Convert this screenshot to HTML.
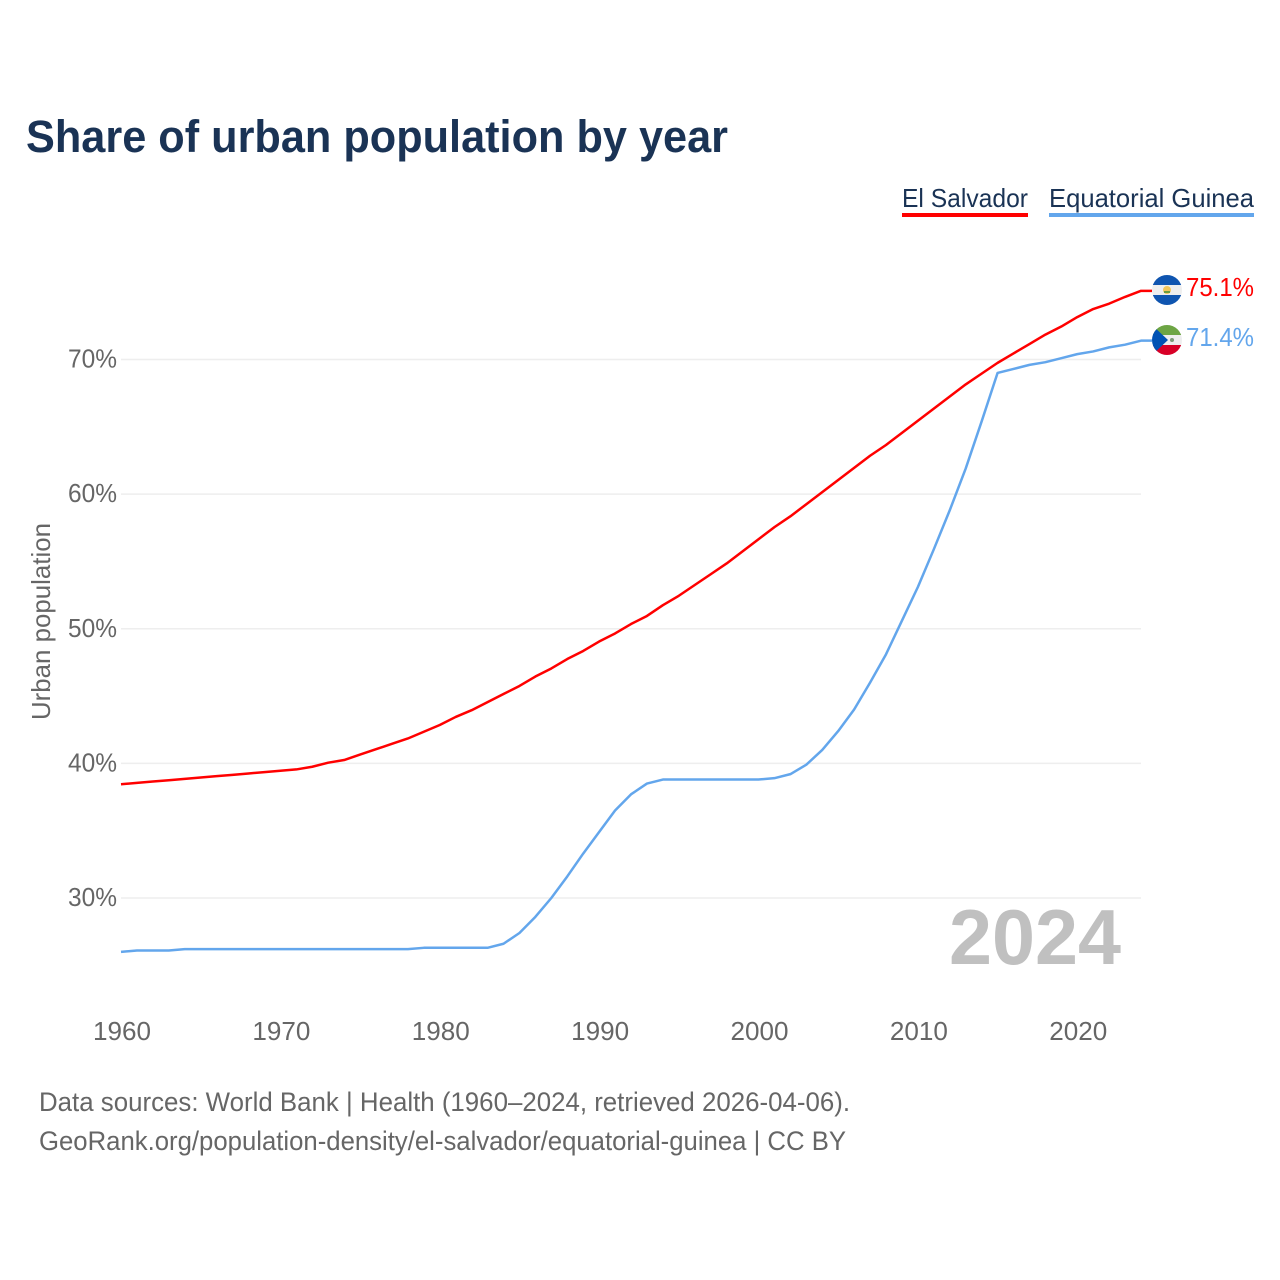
<!DOCTYPE html>
<html lang="en">
<head>
<meta charset="utf-8">
<title>Share of urban population by year</title>
<style>
html,body{margin:0;padding:0;background:#fff;width:1280px;height:1280px;overflow:hidden}
svg{display:block;font-family:"Liberation Sans",sans-serif}
</style>
</head>
<body>
<svg id="chart" xmlns="http://www.w3.org/2000/svg" width="1280" height="1280" viewBox="0 0 1280 1280">
  <rect width="1280" height="1280" fill="#fff"/>
  <text x="26" y="152" font-size="45" font-weight="700" fill="#1a3355" textLength="702" lengthAdjust="spacingAndGlyphs">Share of urban population by year</text>

  <g>
    <g>
      <text x="902" y="207" font-size="26" fill="#1a3355" textLength="126" lengthAdjust="spacingAndGlyphs">El Salvador</text>
      <rect x="902" y="213" width="126" height="4" fill="#ff0000"/>
    </g>
    <g>
      <text x="1049" y="207" font-size="26" fill="#1a3355" textLength="205" lengthAdjust="spacingAndGlyphs">Equatorial Guinea</text>
      <rect x="1049" y="213" width="205" height="4" fill="#63a6ec"/>
    </g>
  </g>

  <g id="grid"></g>
  <g id="yticks"></g>
  <g id="xticks"></g>

  <text transform="translate(50 720) rotate(-90)" font-size="26" fill="#666" textLength="197" lengthAdjust="spacingAndGlyphs">Urban population</text>

  <text x="949" y="964" font-size="78" font-weight="700" fill="#c0c0c0" textLength="172" lengthAdjust="spacingAndGlyphs">2024</text>

  <g id="series"></g>

  <defs>
    <clipPath id="clip-sv"><circle cx="1167" cy="290" r="15"/></clipPath>
    <clipPath id="clip-gq"><circle cx="1167" cy="340" r="15"/></clipPath>
  </defs>

  <g clip-path="url(#clip-sv)">
    <rect x="1152" y="275" width="30" height="30" fill="#eeeeee"/>
    <rect x="1152" y="275" width="30" height="10" fill="#0f55b0"/>
    <rect x="1152" y="295" width="30" height="10" fill="#0f55b0"/>
    <circle cx="1167" cy="290" r="4" fill="#f2c65a"/>
    <rect x="1164" y="291" width="6" height="2" fill="#6d9c3f"/>
  </g>
  <g clip-path="url(#clip-gq)">
    <rect x="1152" y="325" width="30" height="30" fill="#eeeeee"/>
    <rect x="1152" y="325" width="30" height="10" fill="#6da544"/>
    <rect x="1152" y="345" width="30" height="10" fill="#d80027"/>
    <polygon points="1152,325 1168,340 1152,355" fill="#0052b4"/>
    <circle cx="1172" cy="340" r="2" fill="#7d9b78"/>
  </g>

  <text x="1186" y="296" font-size="26" fill="#ff0000" textLength="68" lengthAdjust="spacingAndGlyphs">75.1%</text>
  <text x="1186" y="346" font-size="26" fill="#63a6ec" textLength="68" lengthAdjust="spacingAndGlyphs">71.4%</text>

  <text x="39" y="1111" font-size="26.5" fill="#666" textLength="811" lengthAdjust="spacingAndGlyphs">Data sources: World Bank | Health (1960–2024, retrieved 2026-04-06).</text>
  <text x="39" y="1150" font-size="26.5" fill="#666" textLength="807" lengthAdjust="spacingAndGlyphs">GeoRank.org/population-density/el-salvador/equatorial-guinea | CC BY</text>
</svg>
<script>
const startYear = 1960;
const xTickYears = [1960, 1970, 1980, 1990, 2000, 2010, 2020];
const yTickValues = [30, 40, 50, 60, 70];
const elSalvadorValues = [
  38.45,38.55,38.65,38.75,38.85,38.95,39.05,39.15,39.25,39.35,
  39.45,39.55,39.75,40.05,40.25,40.65,41.05,41.45,41.85,42.35,
  42.85,43.45,43.95,44.55,45.15,45.75,46.45,47.05,47.75,48.35,
  49.05,49.65,50.35,50.95,51.75,52.45,53.25,54.05,54.85,55.75,
  56.65,57.55,58.35,59.25,60.15,61.05,61.95,62.85,63.65,64.55,
  65.45,66.35,67.25,68.15,68.95,69.75,70.45,71.15,71.85,72.45,
  73.15,73.75,74.15,74.65,75.1
];
const equatorialGuineaValues = [
  26.0,26.1,26.1,26.1,26.2,26.2,26.2,26.2,26.2,26.2,
  26.2,26.2,26.2,26.2,26.2,26.2,26.2,26.2,26.2,26.3,
  26.3,26.3,26.3,26.3,26.6,27.4,28.6,30.0,31.6,33.3,
  34.9,36.5,37.7,38.5,38.8,38.8,38.8,38.8,38.8,38.8,
  38.8,38.9,39.2,39.9,41.0,42.4,44.0,46.0,48.1,50.6,
  53.1,55.9,58.8,61.9,65.4,69.0,69.3,69.6,69.8,70.1,
  70.4,70.6,70.9,71.1,71.4
];

const NS = 'http://www.w3.org/2000/svg';
const xScale = year => 121 + (year - 1960) * (1141 - 121) / 64;
const yScale = pct => 898 - (pct - 30) * (898 - 359.5) / 40;

function make(tag, attrs, parent, text) {
  const el = document.createElementNS(NS, tag);
  Object.keys(attrs).forEach(k => el.setAttribute(k, attrs[k]));
  if (text !== undefined) el.textContent = text;
  parent.appendChild(el);
  return el;
}

const grid = document.getElementById('grid');
const yticks = document.getElementById('yticks');
const xticks = document.getElementById('xticks');
const series = document.getElementById('series');

yTickValues.forEach(v => {
  const line = make('line', {x1: 121, x2: 1141, y1: yScale(v), y2: yScale(v), stroke: '#eeeeee', 'stroke-width': 1.5}, grid);
  
  
  const label = make('text', {x: 117, y: yScale(v) + 8, 'font-size': 26, fill: '#666', 'text-anchor': 'end', textLength: 49, lengthAdjust: 'spacingAndGlyphs'}, yticks, v + '%');
  
  
});

xTickYears.forEach(y => {
  const label = make('text', {x: xScale(y) + 1, y: 1040, 'font-size': 26, fill: '#666', 'text-anchor': 'middle', textLength: 58, lengthAdjust: 'spacingAndGlyphs'}, xticks, String(y));
  
  
});

function linePath(values) {
  const pts = values.map((v, i) => xScale(startYear + i).toFixed(2) + ',' + yScale(v).toFixed(2));
  const last = yScale(values[values.length - 1]).toFixed(2);
  pts.push('1152,' + last);
  return pts.join(' ');
}

const lineSv = make('polyline', {points: linePath(elSalvadorValues), fill: 'none', stroke: '#ff0000', 'stroke-width': 2.5, 'stroke-linejoin': 'round'}, series);



const lineGq = make('polyline', {points: linePath(equatorialGuineaValues), fill: 'none', stroke: '#63a6ec', 'stroke-width': 2.5, 'stroke-linejoin': 'round'}, series);


</script>
</body>
</html>
